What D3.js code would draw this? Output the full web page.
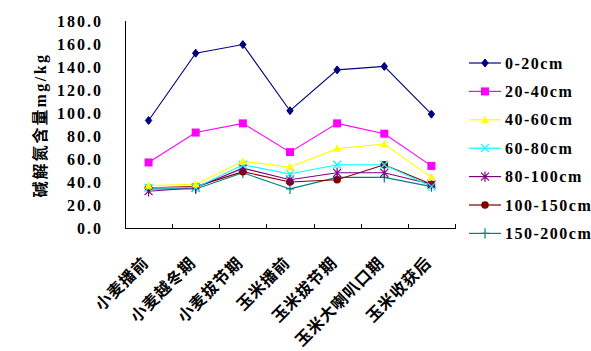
<!DOCTYPE html>
<html><head><meta charset="utf-8">
<script src="https://cdn.jsdelivr.net/npm/d3@7"></script>
<style>body{margin:0;background:#fff;}svg{display:block;}
.serif{font-family:"Liberation Serif","DejaVu Serif","Times New Roman",serif;font-weight:bold;}
.cjk{font-family:"Noto Sans CJK SC",sans-serif;font-weight:bold;}
</style>
</head><body>
<svg id="chart" width="591" height="351"></svg>
<script>
const categories = ["小麦播前","小麦越冬期","小麦拔节期","玉米播前","玉米拔节期","玉米大喇叭口期","玉米收获后"];
const seriesNames = ["0-20cm","20-40cm","40-60cm","60-80cm","80-100cm","100-150cm","150-200cm"];
const s0_20 = [93.5,152,159.5,102,137.5,140.5,99];
const s20_40 = [57,83,91,66,91,82,54];
const s40_60 = [37,38,58,53,69,73,44];
const s60_80 = [35,35,55,47,55,55,36];
const s80_100 = [32,35,52,42,48,48,38];
const s100_150 = [35,36,49,40,42,55,38];
const s150_200 = [34,34,48,34,44,44,36];
const yTicks = [0,20,40,60,80,100,120,140,160,180];
const yTitleCN = "碱解氮含量";
const yTitleUnit = "mg/kg";

const colors = ["#000080","#ff00ff","#ffff00","#00ffff","#800080","#800000","#008080"];
const symbols = ["diamond","square","triangle","x","asterisk","circle","plus"];
const seriesVals = [s0_20,s20_40,s40_60,s60_80,s80_100,s100_150,s150_200];

const svg = d3.select("#chart");
const x = d3.scaleBand().domain(categories).range([125,455]);
const y = d3.scaleLinear().domain([0,180]).range([228,21]);

// axes
svg.append("line").attr("x1",125.5).attr("x2",125.5).attr("y1",y(180)).attr("y2",y(0)+0.5).attr("stroke","#000");
svg.append("line").attr("x1",125).attr("x2",456).attr("y1",228.5).attr("y2",228.5).attr("stroke","#000");
svg.selectAll(".xtick").data(categories).enter().append("line")
  .attr("x1",d=>Math.round(x(d)+x.bandwidth())+0.5).attr("x2",d=>Math.round(x(d)+x.bandwidth())+0.5)
  .attr("y1",224).attr("y2",228).attr("stroke","#000");

svg.selectAll(".ylab").data(yTicks).enter().append("text")
  .attr("class","serif")
  .attr("x",103).attr("y",d=>y(d)).attr("dy","0.36em")
  .attr("text-anchor","end")
  .style("font-size","16px").style("letter-spacing","2px")
  .text(d=>d.toFixed(1));

const yt = svg.append("text")
  .attr("transform","translate(46,125) rotate(-90)")
  .attr("text-anchor","middle")
  .style("font-size","16px");
yt.append("tspan").attr("class","cjk").style("letter-spacing","2px").text(yTitleCN);
yt.append("tspan").attr("class","serif").style("letter-spacing","2.5px").text(yTitleUnit);

svg.selectAll(".xlab").data(categories).enter().append("text")
  .attr("class","cjk")
  .attr("transform",d=>`translate(${x(d)+x.bandwidth()/2-3},260) rotate(-45)`)
  .attr("text-anchor","end").attr("dy","0.35em")
  .style("font-size","16px").style("letter-spacing","0.8px")
  .text(d=>d);

function marker(g, type, color, cx, cy, s) {
  const gg = g.append("g").attr("transform",`translate(${cx},${cy})`);
  if (type==="diamond") gg.append("path").attr("d",`M0,-${s}L${s*0.8},0L0,${s}L-${s*0.8},0Z`).attr("fill",color).attr("stroke",color);
  else if (type==="square") gg.append("rect").attr("x",-s).attr("y",-s).attr("width",2*s).attr("height",2*s).attr("fill",color);
  else if (type==="triangle") gg.append("path").attr("d",`M0,-${s*1.1}L${s},${s*0.8}L-${s},${s*0.8}Z`).attr("fill",color);
  else if (type==="circle") gg.append("circle").attr("r",s*0.95).attr("fill",color);
  else if (type==="x") gg.append("path").attr("d",`M-${s},-${s}L${s},${s}M-${s},${s}L${s},-${s}`).attr("stroke",color).attr("stroke-width",1.2);
  else if (type==="asterisk") gg.append("path").attr("d",`M-${s},-${s}L${s},${s}M-${s},${s}L${s},-${s}M0,-${s*1.3}L0,${s*1.3}`).attr("stroke",color).attr("stroke-width",1.2);
  else if (type==="plus") gg.append("path").attr("d",`M-${s},0L${s},0M0,-${s*1.3}L0,${s*1.3}`).attr("stroke",color).attr("stroke-width",1.2);
}

const line = d3.line().x((d,i)=>x(categories[i])+x.bandwidth()/2).y(d=>y(d));
const plot = svg.append("g");
for (let k = seriesVals.length-1; k>=0; k--) {
  plot.append("path").attr("d",line(seriesVals[k])).attr("fill","none").attr("stroke",colors[k]).attr("stroke-width",1.1);
}
for (let k = seriesVals.length-1; k>=0; k--) {
  seriesVals[k].forEach((v,i)=>marker(plot, symbols[k], colors[k], x(categories[i])+x.bandwidth()/2, y(v), 4));
}

// legend
const lg = svg.append("g");
seriesNames.forEach((n,k)=>{
  const ly = 63 + k*28.4;
  lg.append("line").attr("x1",469).attr("x2",501).attr("y1",ly).attr("y2",ly).attr("stroke",colors[k]).attr("stroke-width",1.2);
  marker(lg, symbols[k], colors[k], 485, ly, 4);
  lg.append("text").attr("class","serif").attr("x",505).attr("y",ly).attr("dy","0.35em")
    .style("font-size","16px").style("letter-spacing","1.5px").text(n);
});
</script>
</body></html>
